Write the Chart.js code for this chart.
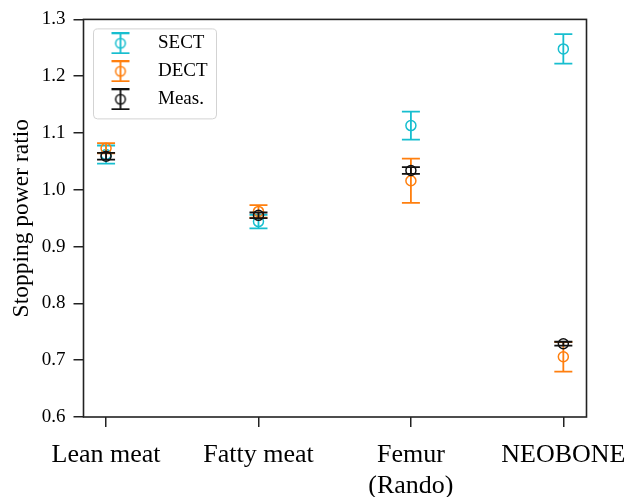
<!DOCTYPE html>
<html><head><meta charset="utf-8">
<script src="https://cdn.jsdelivr.net/npm/chart.js@4.4.0/dist/chart.umd.min.js"></script>
<style>html,body{margin:0;padding:0;background:#fff;}</style>
</head><body>
<canvas id="c" width="627" height="497"></canvas>
<script>
// ---- data ----
const categories = ['Lean meat', 'Fatty meat', ['Femur', '(Rando)'], 'NEOBONE'];
const seriesNames = ['SECT', 'DECT', 'Meas.'];
const sectValues = [1.062, 0.944, 1.113, 1.248];
const sectErrors = [0.016, 0.012, 0.0245, 0.026];
const dectValues = [1.073, 0.962, 1.016, 0.706];
const dectErrors = [0.009, 0.011, 0.039, 0.026];
const measValues = [1.059, 0.955, 1.034, 0.729];
const measErrors = [0.006, 0.005, 0.006, 0.0035];
const yTickValues = [0.6, 0.7, 0.8, 0.9, 1.0, 1.1, 1.2, 1.3];
const yTitle = 'Stopping power ratio';

// ---- styles ----
const colors = ['#17becf', '#ff7f0e', '#111111'];
const FONT = 'Liberation Serif';
const CAP_HALF = 9;
const ERR_LW = 1.8;

function makeIcon(color) {
  const c = document.createElement('canvas');
  c.width = 22; c.height = 22;
  const g = c.getContext('2d');
  g.strokeStyle = color; g.lineWidth = ERR_LW;
  g.beginPath();
  g.moveTo(11, 1); g.lineTo(11, 21);
  g.moveTo(2, 1); g.lineTo(20, 1);
  g.moveTo(2, 21); g.lineTo(20, 21);
  g.stroke();
  g.lineWidth = 1.5;
  g.beginPath(); g.arc(11, 11, 4.8, 0, Math.PI * 2); g.stroke();
  return c;
}
const icons = colors.map(makeIcon);

const valueSets = [sectValues, dectValues, measValues];
const errorSets = [sectErrors, dectErrors, measErrors];

const datasets = seriesNames.map((name, s) => ({
  label: name,
  data: valueSets[s].map((v, i) => ({ x: i, y: v })),
  errors: errorSets[s],
  borderColor: colors[s],
  backgroundColor: 'rgba(0,0,0,0)',
  pointRadius: 5,
  pointHoverRadius: 5,
  pointBorderWidth: 1.5,
  showLine: false,
  order: 3 - s
}));

const errorBarPlugin = {
  id: 'errorBars',
  beforeDatasetDraw(chart, args) {
    const ds = chart.data.datasets[args.index];
    const ys = chart.scales.y;
    const ctx = chart.ctx;
    ctx.save();
    ctx.strokeStyle = ds.borderColor;
    ctx.lineWidth = ERR_LW;
    args.meta.data.forEach((pt, i) => {
      const v = ds.data[i].y, e = ds.errors[i];
      const yt = ys.getPixelForValue(v + e), yb = ys.getPixelForValue(v - e);
      ctx.beginPath();
      ctx.moveTo(pt.x, yt); ctx.lineTo(pt.x, yb);
      ctx.moveTo(pt.x - CAP_HALF, yt); ctx.lineTo(pt.x + CAP_HALF, yt);
      ctx.moveTo(pt.x - CAP_HALF, yb); ctx.lineTo(pt.x + CAP_HALF, yb);
      ctx.stroke();
    });
    ctx.restore();
  }
};

const framePlugin = {
  id: 'frame',
  beforeDraw(chart) {
    const a = chart.chartArea, ctx = chart.ctx;
    ctx.save();
    ctx.fillStyle = '#fff';
    ctx.strokeStyle = '#d3d3d3';
    ctx.lineWidth = 1;
    ctx.beginPath();
    ctx.roundRect(a.left + 10, a.top + 9.5, 123, 90, 4);
    ctx.fill(); ctx.stroke();
    ctx.restore();
  },
  afterDatasetsDraw(chart) {
    const a = chart.chartArea, ctx = chart.ctx;
    ctx.save();
    ctx.strokeStyle = '#222';
    ctx.lineWidth = 1.6;
    ctx.strokeRect(a.left, a.top, a.right - a.left, a.bottom - a.top);
    ctx.restore();
  }
};

new Chart(document.getElementById('c'), {
  type: 'scatter',
  data: { datasets },
  plugins: [errorBarPlugin, framePlugin],
  options: {
    responsive: false,
    animation: false,
    layout: { padding: { left: 0, right: 40.5, top: 19, bottom: 0 } },
    plugins: {
      tooltip: { enabled: false },
      legend: {
        position: 'chartArea',
        align: 'start',
        title: { display: true, text: '', padding: { top: 20, bottom: 0 }, font: { size: 4 } },
        labels: {
          usePointStyle: true,
          pointStyleWidth: 56,
          padding: 9,
          color: '#000',
          font: { family: FONT, size: 19 },
          generateLabels: (chart) => chart.data.datasets.map((ds, i) => ({
            text: ds.label, pointStyle: icons[i], datasetIndex: i,
            hidden: false, lineWidth: 0, fontColor: '#000',
            fillStyle: ds.borderColor, strokeStyle: ds.borderColor
          }))
        }
      }
    },
    scales: {
      x: {
        type: 'linear',
        min: -0.148,
        max: 3.152,
        afterBuildTicks: (s) => { s.ticks = categories.map((c, i) => ({ value: i })); },
        afterFit: (s) => { s.height = 80; s.paddingLeft = 0; s.paddingRight = 0; },
        border: { display: false },
        grid: { drawOnChartArea: false, drawTicks: true, tickLength: 10, color: '#222', lineWidth: 1.5 },
        ticks: {
          autoSkip: false, maxRotation: 0, padding: 13, color: '#000',
          font: { family: FONT, size: 26, lineHeight: 1.18 },
          callback: (v) => categories[v]
        }
      },
      y: {
        min: 0.6,
        max: 1.3,
        afterBuildTicks: (s) => { s.ticks = yTickValues.map(v => ({ value: v })); },
        afterFit: (s) => { s.width = 83.5; },
        border: { display: false },
        grid: { drawOnChartArea: false, drawTicks: true, tickLength: 10, color: '#222', lineWidth: 1.5 },
        ticks: {
          padding: 8, color: '#000',
          font: { family: FONT, size: 19 },
          callback: (v) => v.toFixed(1)
        },
        title: { display: true, text: yTitle, color: '#000', font: { family: FONT, size: 23.5, lineHeight: 1.2 }, padding: { top: 8, bottom: 0 } }
      }
    }
  }
});
</script>
</body></html>
